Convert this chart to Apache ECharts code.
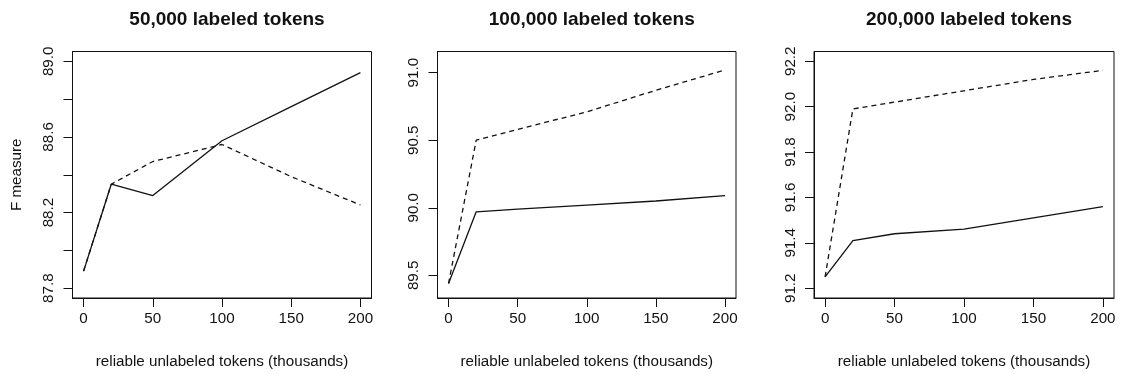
<!DOCTYPE html>
<html>
<head>
<meta charset="utf-8">
<title>F measure vs. reliable unlabeled tokens</title>
<script src="https://cdn.jsdelivr.net/npm/echarts@6/dist/echarts.min.js"></script>
<style>
  html, body { margin: 0; padding: 0; background: #fff; }
  #chart { width: 1121px; height: 374px; }
</style>
</head>
<body>
<div id="chart"></div>
<script>
// Reliable unlabeled tokens added (thousands)
const unlabeledK = [0, 20, 50, 100, 150, 200];

// F measure, one pair of curves per labeled-set size
const solid50k   = [87.89, 88.35, 88.29, 88.58, 88.76, 88.94];
const dashed50k  = [87.89, 88.35, 88.47, 88.56, 88.39, 88.24];
const solid100k  = [89.44, 89.97, 89.99, 90.02, 90.05, 90.09];
const dashed100k = [89.44, 90.50, 90.58, 90.71, 90.87, 91.02];
const solid200k  = [91.25, 91.41, 91.44, 91.46, 91.51, 91.56];
const dashed200k = [91.25, 91.99, 92.02, 92.07, 92.12, 92.16];

// Panel titles and axis ticks
const panelTitles = ['50,000 labeled tokens', '100,000 labeled tokens', '200,000 labeled tokens'];
const xTicks = [0, 50, 100, 150, 200];
const yTicks50k  = [87.8, 88.0, 88.2, 88.4, 88.6, 88.8, 89.0];
const yLabels50k = [87.8, 88.2, 88.6, 89.0];
const yTicks100k = [89.5, 90.0, 90.5, 91.0];
const yTicks200k = [91.2, 91.4, 91.6, 91.8, 92.0, 92.2];
const xTitle = 'reliable unlabeled tokens (thousands)';
const yTitle = 'F measure';

const FONT = '"Liberation Sans", Arial, Helvetica, sans-serif';
const INK = '#111';
const TEXT_SIZE = 15.2;

const panels = [
  { left: 72.5,  width: 299,   yMin: 87.748, yMax: 89.052, ticks: yTicks50k,  labels: yLabels50k, solid: solid50k,  dashed: dashed50k },
  { left: 437.5, width: 298.5, yMin: 89.332, yMax: 91.157, ticks: yTicks100k, labels: yTicks100k, solid: solid100k, dashed: dashed100k },
  { left: 814,   width: 300,   yMin: 91.157, yMax: 92.243, ticks: yTicks200k, labels: yTicks200k, solid: solid200k, dashed: dashed200k }
];

const GRID_TOP = 51.5;
const GRID_H = 251;

const option = {
  animation: false,
  backgroundColor: '#fff',
  title: panels.map((p, i) => ({
    text: panelTitles[i],
    left: p.left + p.width / 2,
    top: 5,
    textAlign: 'center',
    textStyle: { fontFamily: FONT, fontWeight: 'bold', fontSize: 19, color: INK }
  })),
  grid: panels.map(p => ({
    left: p.left, top: GRID_TOP, width: p.width, height: GRID_H,
    show: true, borderColor: INK, borderWidth: 1, backgroundColor: 'transparent',
    containLabel: false
  })),
  xAxis: panels.map((p, i) => ({
    gridIndex: i,
    type: 'value',
    position: 'bottom',
    min: -8, max: 208,
    name: xTitle,
    nameLocation: 'middle',
    nameGap: 56,
    nameTextStyle: { fontFamily: FONT, fontSize: TEXT_SIZE, color: INK },
    axisLine: { show: true, onZero: false, lineStyle: { color: INK, width: 1 } },
    splitLine: { show: false },
    axisTick: { show: true, inside: false, length: 9, customValues: xTicks, lineStyle: { color: INK, width: 1 } },
    axisLabel: { show: true, inside: false, margin: 13, customValues: xTicks, fontFamily: FONT, fontSize: TEXT_SIZE, color: INK }
  })),
  yAxis: panels.map((p, i) => ({
    gridIndex: i,
    type: 'value',
    position: 'left',
    min: p.yMin, max: p.yMax,
    name: i === 0 ? yTitle : '',
    nameLocation: 'middle',
    nameGap: 48,
    nameRotate: 90,
    nameTextStyle: { fontFamily: FONT, fontSize: TEXT_SIZE, color: INK },
    axisLine: { show: true, onZero: false, lineStyle: { color: INK, width: 1 } },
    splitLine: { show: false },
    axisTick: { show: true, inside: false, length: 9, customValues: p.ticks, lineStyle: { color: INK, width: 1 } },
    axisLabel: {
      show: true, inside: false, margin: 16, rotate: 90, customValues: p.labels,
      formatter: v => Number(v).toFixed(1),
      fontFamily: FONT, fontSize: TEXT_SIZE, color: INK
    }
  })),
  series: panels.flatMap((p, i) => [
    {
      type: 'line', xAxisIndex: i, yAxisIndex: i, symbol: 'none',
      data: unlabeledK.map((x, k) => [x, p.solid[k]]),
      lineStyle: { color: INK, width: 1.3, type: 'solid' }
    },
    {
      type: 'line', xAxisIndex: i, yAxisIndex: i, symbol: 'none',
      data: unlabeledK.map((x, k) => [x, p.dashed[k]]),
      lineStyle: { color: INK, width: 1.3, type: [5, 4] }
    }
  ])
};

const chart = echarts.init(document.getElementById('chart'), null, { renderer: 'canvas' });
chart.setOption(option);
</script>
</body>
</html>
